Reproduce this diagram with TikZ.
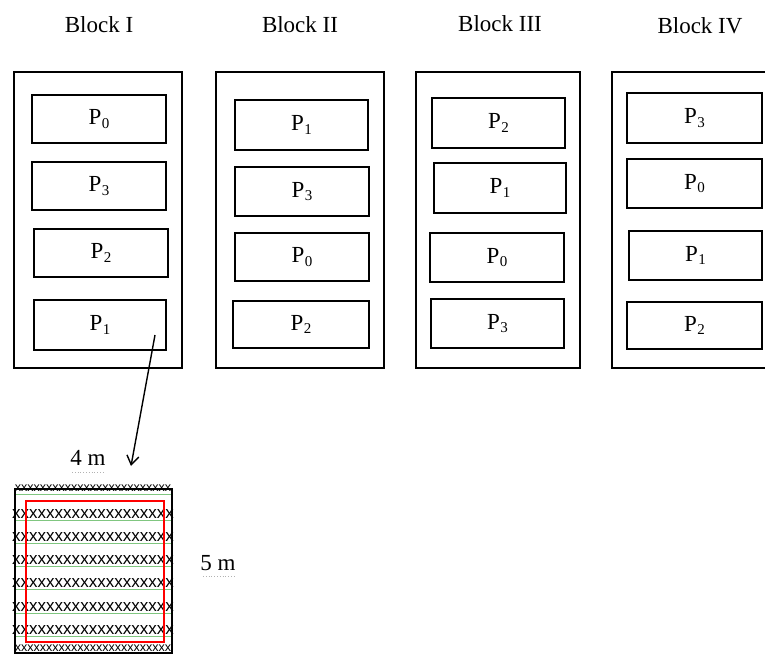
\documentclass[tikz,border=0pt]{standalone}
\usepackage{fontspec}
\setmainfont{Liberation Serif}
\newfontfamily\xfont{Liberation Sans}
\usetikzlibrary{arrows.meta}
\newcommand\Psub[1]{P\kern0.3pt\raisebox{-0.35ex}{\fontsize{15}{16}\selectfont #1}}
\tikzset{
  outerbox/.style={draw, line width=1.2pt, inner sep=0pt, minimum width=168pt, minimum height=296pt},
  pbox/.style={draw, line width=1.2pt, inner sep=0pt, font=\fontsize{23}{26}\selectfont},
  title/.style={font=\fontsize{23}{26}\selectfont, inner sep=0pt},
  lbl/.style={font=\fontsize{23}{26}\selectfont, inner sep=0pt},
  xrow/.style={font=\xfont\fontsize{17}{17}\selectfont, inner sep=0pt},
  xrowsmall/.style={font=\xfont\fontsize{12.5}{12}\selectfont, inner sep=0pt},
  gline/.style={draw=green!55!black!50, line width=0.8pt},
  gdot/.style={draw=gray!60, line width=0.8pt, dotted},
}
\begin{document}
\begin{tikzpicture}[x=1pt,y=-1pt]
\useasboundingbox (0,0) rectangle (765,655);
\clip (0,0) rectangle (765,655);
% titles
\node[title] (t1) at (99,25) {Block I};
\node[title] (t2) at (300,25) {Block II};
\node[title] (t3) at (500,24) {Block III};
\node[title] (t4) at (700,26) {Block IV};
% block outlines
\node[outerbox] (b1) at (98,220) {};
\node[outerbox] (b2) at (300,220) {};
\node[outerbox, minimum width=164pt] (b3) at (498,220) {};
\node[outerbox, minimum width=188pt] (b4) at (706,220) {};
% Block I
\node[pbox, minimum width=134pt, minimum height=48pt] (b1p0) at (99,119) {\Psub{0}};
\node[pbox, minimum width=134pt, minimum height=48pt] (b1p3) at (99,186) {\Psub{3}};
\node[pbox, minimum width=134pt, minimum height=48pt] (b1p2) at (101,253) {\Psub{2}};
\node[pbox, minimum width=132pt, minimum height=50pt] (b1p1) at (100,325) {\Psub{1}};
% Block II
\node[pbox, minimum width=133pt, minimum height=50pt] (b2p1) at (301.5,125) {\Psub{1}};
\node[pbox, minimum width=134pt, minimum height=49pt] (b2p3) at (302,191.5) {\Psub{3}};
\node[pbox, minimum width=134pt, minimum height=48pt] (b2p0) at (302,257) {\Psub{0}};
\node[pbox, minimum width=136pt, minimum height=47pt] (b2p2) at (301,324.5) {\Psub{2}};
% Block III
\node[pbox, minimum width=133pt, minimum height=50pt] (b3p2) at (498.5,123) {\Psub{2}};
\node[pbox, minimum width=132pt, minimum height=50pt] (b3p1) at (500,188) {\Psub{1}};
\node[pbox, minimum width=134pt, minimum height=49pt] (b3p0) at (497,257.5) {\Psub{0}};
\node[pbox, minimum width=133pt, minimum height=49pt] (b3p3) at (497.5,323.5) {\Psub{3}};
% Block IV
\node[pbox, minimum width=135pt, minimum height=50pt] (b4p3) at (694.5,118) {\Psub{3}};
\node[pbox, minimum width=135pt, minimum height=49pt] (b4p0) at (694.5,183.5) {\Psub{0}};
\node[pbox, minimum width=133pt, minimum height=49pt] (b4p1) at (695.5,255.5) {\Psub{1}};
\node[pbox, minimum width=135pt, minimum height=47pt] (b4p2) at (694.5,325.5) {\Psub{2}};
% arrow
\coordinate (arrs) at (155,335);
\coordinate (arre) at (131,466);
\draw[line width=1.4pt, -{Straight Barb[length=9pt,width=12pt,line width=1.4pt]}] (arrs) -- (arre);
% labels
\node[lbl] (l4) at (88,458) {4 m};
\node[lbl] (l5) at (218,563) {5 m};
\draw[gdot] (72,472) -- (104,472);
\draw[gdot] (203,576) -- (234,576);
% plot
\foreach \y in {520,543,566,589,613,636} {\draw[gline] (14,\y) -- (172,\y);}
\draw[gline] (14,494) -- (172,494);
\foreach \y in {514,537,560,583,607,630} {\node[xrow] at (93,\y) {xxxxxxxxxxxxxxxxxxx};}
\node[xrowsmall] (xtop) at (93,488) {xxxxxxxxxxxxxxxxxxxxxxxxx};
\node[xrowsmall] (xbot) at (93,648) {xxxxxxxxxxxxxxxxxxxxxxxxx};
\node[draw, line width=1.4pt, inner sep=0pt, minimum width=157pt, minimum height=164pt] (plot) at (93.5,571) {};
\node[draw=red, line width=1.4pt, inner sep=0pt, minimum width=138pt, minimum height=141pt] (net) at (95,571.5) {};
\end{tikzpicture}
\end{document}
